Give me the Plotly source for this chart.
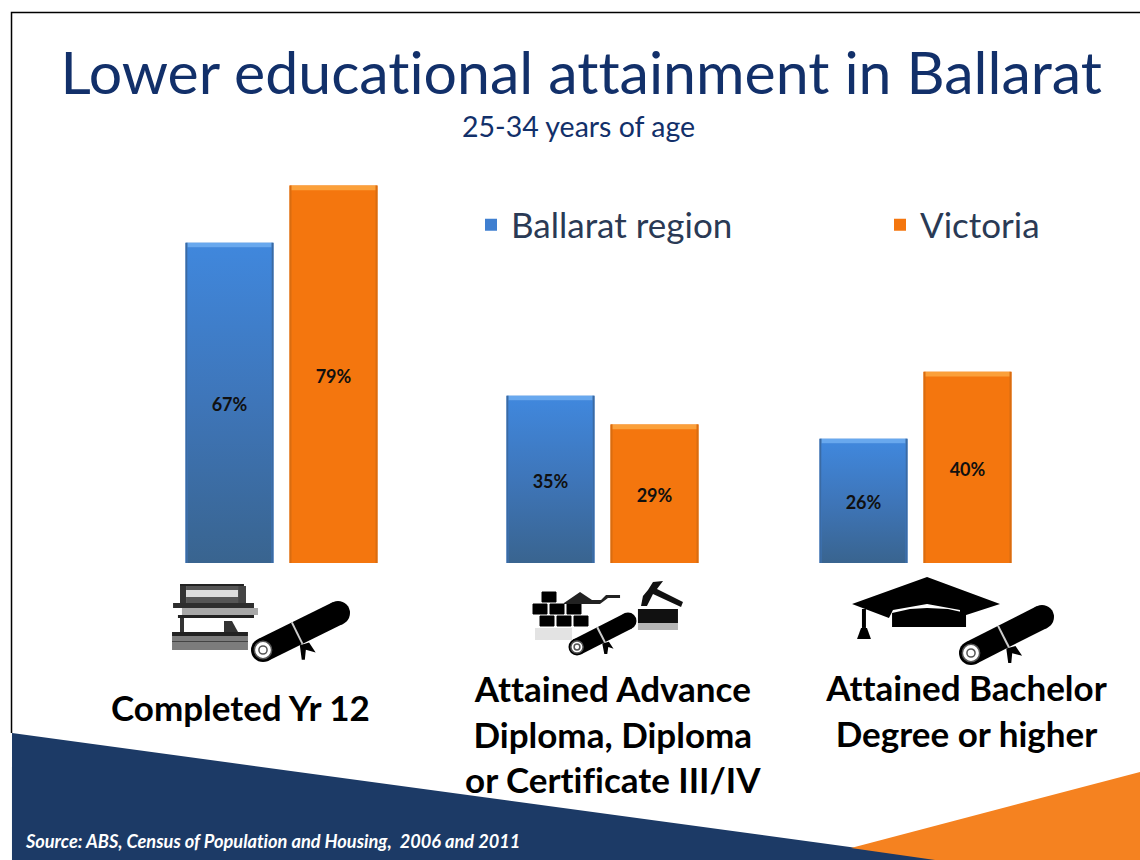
import math
import plotly.graph_objects as go

categories = ["Completed Yr 12", "Attained Advance<br>Diploma, Diploma<br>or Certificate III/IV",
              "Attained Bachelor<br>Degree or higher"]
ballarat = [67, 35, 26]
victoria = [79, 29, 40]
series_names = ["Ballarat region", "Victoria"]

W, H = 1140, 860
BASE = 563
PPU = 4.78
group_centers = [281.5, 602.5, 915.5]
OFF, BW = 52, 88
NAVY, ORANGE, TITLE = "#1c3a66", "#f58220", "#12306a"
FONT = "Lato"

def px(x): return x / W
def py(y): return 1 - y / H
def path(pts, close=True):
    return "M" + " L".join(f"{px(x):.4f},{py(y):.4f}" for x, y in pts) + (" Z" if close else "")

shapes = []
def poly(pts, color, line=None, lw=0):
    shapes.append(dict(type="path", xref="paper", yref="paper", path=path(pts), fillcolor=color,
                       line=dict(color=line or color, width=lw), layer="above"))
def rect(x0, y0, x1, y1, color):
    poly([(x0, y0), (x1, y0), (x1, y1), (x0, y1)], color)
def circ(cx, cy, r, color, line=None, lw=0):
    shapes.append(dict(type="circle", xref="paper", yref="paper", x0=px(cx-r), x1=px(cx+r),
                       y0=py(cy+r), y1=py(cy-r), fillcolor=color,
                       line=dict(color=line or color, width=lw), layer="above"))
def diploma(x0, y0, x1, y1, t):
    a = math.atan2(y1-y0, x1-x0)
    nx, ny = -math.sin(a)*t/2, math.cos(a)*t/2
    poly([(x0-nx, y0-ny), (x1-nx, y1-ny), (x1+nx, y1+ny), (x0+nx, y0+ny)], "#000000")
    circ(x1, y1, t/2, "#000000")
    circ(x0, y0, t/2, "#000000")
    circ(x0, y0, t*0.36, "#ffffff", "#555555", 1.5)
    circ(x0, y0, t*0.17, "#ffffff", "#555555", 1.5)
    mx, my = x0+(x1-x0)*0.42, y0+(y1-y0)*0.42
    dx, dy = math.cos(a), math.sin(a)
    poly([(mx-nx+dx*2, my-ny+dy*2), (mx-nx+dx*4, my-ny+dy*4), (mx+nx+dx*4, my+ny+dy*4), (mx+nx+dx*2, my+ny+dy*2)], "#cccccc")
    rib = t*0.55
    poly([(mx+nx, my+ny), (mx+nx+2, my+ny+rib*1.1), (mx+nx+5, my+ny+rib*1.1), (mx+nx+6, my+ny+rib*0.35),
          (mx+nx+rib*1.2, my+ny+rib*0.55), (mx+nx+rib*0.7, my+ny-rib*0.2)], "#000000")

# page decoration: frame and corner wedges
shapes.append(dict(type="path", xref="paper", yref="paper", path=path([(11.5, 733), (11.5, 12.5), (1140, 12.5)], close=False),
                   line=dict(color="#000000", width=1.5), layer="below"))
poly([(12, 733), (945, 860), (12, 860)], NAVY)
poly([(851, 848), (1140, 772), (1140, 860), (935, 860)], ORANGE)

# books
rect(180, 584, 244, 586, "#222222"); rect(180, 586, 186, 603, "#333333"); rect(238, 586, 246, 603, "#444444")
rect(186, 586, 238, 590, "#555555"); rect(186, 590, 238, 597, "#dcdcdc"); rect(186, 597, 238, 603, "#555555")
rect(173, 603, 254, 608, "#2e2e2e"); rect(182, 608, 258, 615, "#a8a8a8")
rect(178, 615, 254, 618, "#222222"); rect(180, 618, 184, 632, "#333333")
poly([(224, 621), (232, 621), (238, 632), (224, 632)], "#333333"); rect(172, 632, 248, 636, "#222222")
rect(172, 636, 248, 650, "#7c7c7c"); rect(172, 641, 248, 642, "#444444")
diploma(263, 650, 338, 613, 24)

# bricks and trowel, hammer
for bx, by in [(549, 597), (540, 609), (557, 609), (574, 609), (547, 621), (564, 621), (581, 621)]:
    shapes.append(dict(type="rect", xref="paper", yref="paper", x0=px(bx-7), x1=px(bx+7), y0=py(by+5), y1=py(by-5),
                       fillcolor="#000000", line=dict(color="#000000", width=1), layer="above"))
poly([(564, 603), (580, 592), (592, 600), (601, 600), (606, 595), (620, 595), (620, 598), (608, 598), (600, 604), (564, 604)], "#222222")
poly([(641, 606), (643, 596), (648, 590), (653, 582), (663, 581), (657, 589), (683, 602), (681, 607), (653, 594), (647, 606)], "#111111")
rect(638, 609, 678, 623, "#111111")
rect(638, 623, 678, 630, "#b5b5b5")
rect(535, 628, 572, 640, "#e3e3e3")
diploma(577, 647, 628, 621, 17)

# graduation cap
poly([(852, 604), (927, 577), (1000, 604), (960, 617), (960, 610), (927, 604), (893, 610), (889, 618)], "#000000")
poly([(892, 613), (910, 609), (927, 608), (948, 609), (966, 613), (966, 627), (892, 627)], "#000000")
rect(862, 609, 866, 628, "#000000")
poly([(861, 628), (867, 628), (871, 639), (857, 639)], "#000000")
diploma(971, 653, 1042, 617, 24)

fig = go.Figure()
def xs(sign): return [c + sign * OFF for c in group_centers]

def decorate(x, vals, light, edge):
    fig.add_bar(x=x, y=[1.0] * len(vals), base=[v - 1.0 for v in vals], width=BW - 2,
                marker=dict(color=light, line=dict(width=0)), showlegend=False, hoverinfo="skip")
    for s in (-1, 1):
        fig.add_bar(x=[c + s * (BW / 2 - 1) for c in x], y=vals, width=2,
                    marker=dict(color=edge, line=dict(width=0)), showlegend=False, hoverinfo="skip")

fig.add_bar(x=xs(-1), y=ballarat, width=BW, name=series_names[0], legend="legend",
            marker=dict(color="#3f7fd0", line=dict(width=0)))
fig.add_bar(x=xs(1), y=victoria, width=BW, name=series_names[1], legend="legend2",
            marker=dict(color="#f4760e", line=dict(width=0)))
decorate(xs(-1), ballarat, "#68a8ee", "#3a6aa3")
decorate(xs(1), victoria, "#fba03a", "#d96c10")

# vertical sheen on the blue series
for c, v in zip(xs(-1), ballarat):
    fig.add_scatter(x=[c-BW/2+2, c-BW/2+2, c+BW/2-2, c+BW/2-2], y=[0, v-1.0, v-1.0, 0], fill="toself", mode="none",
                    fillgradient=dict(type="vertical", colorscale=[[0, "#39648f"], [0.5, "#3e75b8"], [1, "#4087dc"]]),
                    showlegend=False, hoverinfo="skip")

for x, vals in ((xs(-1), ballarat), (xs(1), victoria)):
    fig.add_scatter(x=x, y=[v / 2 - 0.8 for v in vals], mode="text", text=[f"{v}%" for v in vals],
                    textposition="middle center", showlegend=False, hoverinfo="skip",
                    textfont=dict(family=FONT, size=18, color="#101010", weight="bold"))

def label(text, x, y, size, color="#000000", bold=False, italic=False, anchor="center", vanchor="middle"):
    fig.add_annotation(xref="paper", yref="paper", x=px(x), y=py(y), text=text, showarrow=False,
                       xanchor=anchor, yanchor=vanchor, align="center",
                       font=dict(family=FONT, size=size, color=color, weight="bold" if bold else "normal",
                                 style="italic" if italic else "normal"))

label("Lower educational attainment in Ballarat", 581, 72, 59, TITLE)
label("25-34 years of age", 578, 126, 28.5, TITLE)
label(categories[0], 240, 707, 35, bold=True)
label(categories[1], 613, 733, 35, bold=True)
label(categories[2], 966, 710, 35, bold=True)
label("Source: ABS, Census of Population and Housing,  2006 and 2011", 23, 841, 18.2, "#ffffff", True, True, anchor="left")

leg = dict(orientation="h", yanchor="middle", y=py(225), xanchor="left", itemclick=False, itemdoubleclick=False,
           bgcolor="rgba(0,0,0,0)", font=dict(family=FONT, size=35, color="#2a3a55"))
fig.update_layout(
    width=W, height=H, margin=dict(l=0, r=0, t=0, b=0), paper_bgcolor="#ffffff", plot_bgcolor="rgba(0,0,0,0)",
    barmode="overlay", shapes=shapes,
    xaxis=dict(range=[0, W], visible=False, fixedrange=True),
    yaxis=dict(range=[-(H - BASE) / PPU, BASE / PPU], visible=False, fixedrange=True),
    legend=dict(leg, x=px(471)), legend2=dict(leg, x=px(880)),
)
fig.write_html("out.html", config=dict(displayModeBar=False),
               post_script="document.body.style.margin='0';document.body.style.overflow='hidden';"
                           "var s=document.createElement('style');"
                           "s.textContent='svg text{font-variant-ligatures:none !important;font-feature-settings:\"liga\" 0,\"clig\" 0 !important;}';"
                           "document.head.appendChild(s);")
